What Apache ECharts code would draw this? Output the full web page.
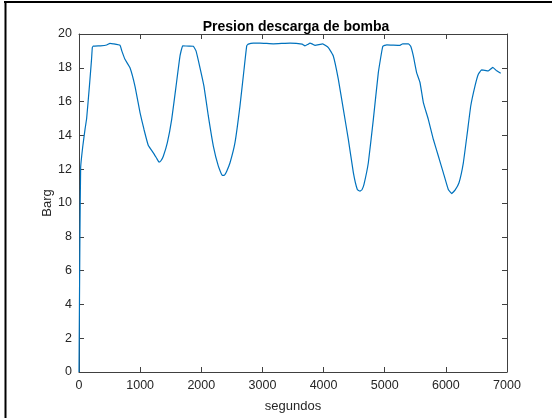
<!DOCTYPE html>
<html>
<head>
<meta charset="utf-8">
<script src="https://cdn.jsdelivr.net/npm/echarts@6/dist/echarts.min.js"></script>
<style>html,body{margin:0;padding:0;background:#fff;}#c{width:552px;height:418px;}</style>
</head>
<body>
<div id="c"></div>
<script>
const titleText = 'Presion descarga de bomba';
const xName = 'segundos';
const yName = 'Barg';
const xTicks = [0, 1000, 2000, 3000, 4000, 5000, 6000, 7000];
const yTicks = [0, 2, 4, 6, 8, 10, 12, 14, 16, 18, 20];
const seconds = [0, 15, 27, 60, 100, 125, 170, 205, 218, 234, 350, 453, 507, 560, 670, 700, 752, 834, 916, 998, 1063, 1134, 1216, 1270, 1309, 1340, 1379, 1445, 1516, 1587, 1652, 1696, 1800, 1870, 1914, 1979, 2044, 2115, 2197, 2279, 2344, 2380, 2416, 2470, 2551, 2633, 2699, 2743, 2769, 2852, 2960, 3178, 3451, 3650, 3696, 3740, 3778, 3820, 3860, 3986, 4078, 4159, 4241, 4323, 4405, 4487, 4552, 4596, 4630, 4661, 4732, 4814, 4895, 4968, 5033, 5250, 5294, 5386, 5425, 5468, 5523, 5577, 5632, 5713, 5795, 5877, 5958, 6040, 6095, 6150, 6215, 6286, 6351, 6407, 6477, 6531, 6586, 6695, 6767, 6832, 6897];
const barg = [0, 8, 12.1, 13.3, 14.4, 15.0, 16.9, 18.5, 19.2, 19.28, 19.3, 19.35, 19.45, 19.42, 19.33, 19.0, 18.5, 18.0, 16.9, 15.35, 14.35, 13.4, 12.97, 12.65, 12.42, 12.5, 12.77, 13.57, 14.95, 16.9, 18.7, 19.3, 19.28, 19.27, 19.0, 18.0, 16.9, 15.15, 13.37, 12.18, 11.63, 11.65, 11.88, 12.38, 13.57, 15.75, 17.9, 19.3, 19.4, 19.46, 19.46, 19.42, 19.46, 19.4, 19.3, 19.38, 19.46, 19.4, 19.33, 19.42, 19.2, 18.7, 17.33, 15.55, 13.77, 11.8, 10.8, 10.7, 10.8, 11.1, 12.38, 14.95, 17.7, 19.27, 19.36, 19.33, 19.42, 19.42, 19.27, 18.7, 17.7, 17.13, 15.94, 14.95, 13.77, 12.78, 11.8, 10.8, 10.56, 10.76, 11.2, 12.38, 14.16, 15.74, 16.93, 17.62, 17.88, 17.82, 18.02, 17.82, 17.68];

const data = seconds.map((t, i) => [t, barg[i]]);
const font = 'Liberation Sans, Arial, Helvetica, sans-serif';
const axisCol = '#404040';
const textCol = '#262626';

function xAxisCfg(pos, showLabel) {
  return {
    type: 'value', position: pos, gridIndex: 0,
    min: xTicks[0], max: xTicks[xTicks.length - 1], interval: 1000,
    axisLine: {show: true, onZero: false, lineStyle: {color: axisCol, width: 1}},
    axisTick: {show: true, inside: true, length: 5, lineStyle: {color: axisCol, width: 1}},
    axisLabel: {show: showLabel, margin: 7, fontFamily: font, fontSize: 12.5, color: textCol,
      formatter: v => String(v)},
    splitLine: {show: false}
  };
}
function yAxisCfg(pos, showLabel) {
  return {
    type: 'value', position: pos, gridIndex: 0,
    min: yTicks[0], max: yTicks[yTicks.length - 1], interval: 2,
    axisLine: {show: true, onZero: false, lineStyle: {color: axisCol, width: 1}},
    axisTick: {show: true, inside: true, length: 5, lineStyle: {color: axisCol, width: 1}},
    axisLabel: {show: showLabel, margin: 7, fontFamily: font, fontSize: 12.5, color: textCol,
      formatter: v => String(v)},
    splitLine: {show: false}
  };
}
const xb = xAxisCfg('bottom', true);
xb.name = xName; xb.nameLocation = 'middle'; xb.nameGap = 28; xb.nameMoveOverlap = false;
xb.nameTextStyle = {fontFamily: font, fontSize: 13, color: textCol};
const yl = yAxisCfg('left', true);
yl.name = yName; yl.nameLocation = 'middle'; yl.nameGap = 25; yl.nameMoveOverlap = false;
yl.nameTextStyle = {fontFamily: font, fontSize: 13, color: textCol};

const chart = echarts.init(document.getElementById('c'), null, {renderer: 'canvas'});
chart.setOption({
  animation: false,
  backgroundColor: '#ffffff',
  title: {
    text: titleText, left: 291, top: 15, textAlign: 'center',
    textStyle: {fontFamily: font, fontSize: 14, fontWeight: 'bold', color: '#000'}
  },
  grid: {left: 79, right: 45, top: 34, bottom: 46},
  xAxis: [xb, xAxisCfg('top', false)],
  yAxis: [yl, yAxisCfg('right', false)],
  series: [{
    type: 'line', data: data, xAxisIndex: 0, yAxisIndex: 0,
    showSymbol: false, smooth: 0.1,
    lineStyle: {color: '#0072BD', width: 1.2}
  }, {
    type: 'line', data: [], xAxisIndex: 1, yAxisIndex: 1, showSymbol: false
  }],
  graphic: [
    {type: 'line', shape: {x1: 4, y1: 2, x2: 552, y2: 2}, style: {stroke: '#000', lineWidth: 2}},
    {type: 'line', shape: {x1: 5.5, y1: 1, x2: 5.5, y2: 418}, style: {stroke: '#000', lineWidth: 2}}
  ]
});
</script>
</body>
</html>
